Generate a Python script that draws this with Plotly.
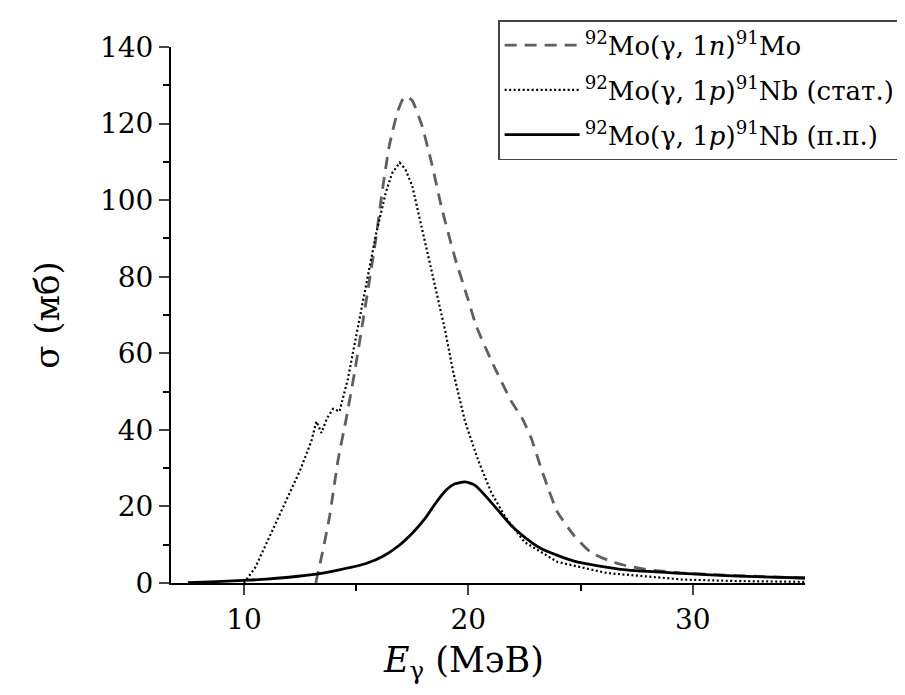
import plotly.graph_objects as go

# (γ,1n) dashed
E_n = [13.2, 13.5, 13.82, 14.19, 14.56, 14.93, 15.29, 15.51, 15.88, 16.18, 16.47, 16.84, 17.1, 17.28,
       17.5, 17.93, 18.37, 18.81, 19.4, 19.99, 20.36, 21.03, 21.91, 22.4, 22.79, 23.24, 23.6, 23.97,
       24.71, 25.44, 26.2, 26.91, 28.0, 29.56, 31.0, 33.0, 35.0]
S_n = [0.0, 8.0, 17.5, 32.0, 43.0, 55.0, 68.0, 76.0, 90.0, 103.0, 114.0, 123.0, 126.5, 127.0,
       126.0, 119.5, 109.5, 98.0, 85.0, 74.0, 67.0, 58.0, 47.5, 43.0, 38.0, 30.0, 24.0, 18.5,
       12.4, 8.1, 6.0, 4.7, 3.5, 2.6, 2.2, 1.7, 1.3]

# (γ,1p) statistical, dotted
E_ps = [10.0, 10.5, 11.03, 11.76, 12.5, 13.0, 13.23, 13.45, 13.7, 13.97, 14.26, 14.63, 15.07, 15.51,
        15.88, 16.32, 16.6, 16.94, 17.2, 17.5, 17.93, 18.37, 18.96, 19.33, 19.85, 20.44, 21.03,
        21.62, 22.5, 23.97, 26.17, 29.56, 32.0, 35.0]
S_ps = [0.0, 4.0, 10.7, 20.0, 29.4, 37.0, 42.2, 39.2, 43.0, 45.5, 44.8, 53.3, 66.5, 79.0,
        91.0, 102.0, 107.0, 109.8, 108.0, 103.7, 92.6, 80.6, 66.1, 55.0, 42.2, 32.0, 23.5,
        17.5, 10.7, 5.5, 2.6, 0.9, 0.5, 0.3]

# (γ,1p) direct (п.п.), solid
E_pd = [7.5, 8.5, 10.0, 11.0, 12.0, 13.23, 14.3, 15.44, 16.2, 16.91, 17.5, 18.09, 18.5, 18.97,
        19.4, 19.85, 20.3, 21.03, 21.91, 22.5, 23.24, 24.71, 26.91, 29.56, 32.0, 35.0]
S_pd = [0.1, 0.3, 0.7, 1.0, 1.5, 2.3, 3.5, 5.1, 7.0, 9.8, 13.0, 17.0, 20.5, 24.0,
        25.9, 26.4, 25.5, 21.0, 15.0, 12.0, 9.0, 5.7, 3.5, 2.5, 1.8, 1.3]

names = ["<sup>92</sup>Mo(γ, 1<i>n</i>)<sup>91</sup>Mo",
         "<sup>92</sup>Mo(γ, 1<i>p</i>)<sup>91</sup>Nb (стат.)",
         "<sup>92</sup>Mo(γ, 1<i>p</i>)<sup>91</sup>Nb (п.п.)"]

x_ticks = [10, 20, 30]
y_ticks = [0, 20, 40, 60, 80, 100, 120, 140]
x_title = "<i>E</i><sub>γ</sub> (МэВ)"
y_title = "σ (мб)"

FONT = "DejaVu Serif"

fig = go.Figure()
fig.add_trace(go.Scatter(x=E_n, y=S_n, mode="lines", name=names[0], legendgroup="a",
                         line=dict(color="#5f5f5f", width=2.8, dash="12px,8px", shape="spline", smoothing=0.5)))
fig.add_trace(go.Scatter(x=E_ps, y=S_ps, mode="lines", name=names[1], legendgroup="b",
                         line=dict(color="black", width=2.2, dash="2px,2.5px")))
fig.add_trace(go.Scatter(x=E_pd, y=S_pd, mode="lines", name=names[2], legendgroup="c",
                         line=dict(color="black", width=2.8, shape="spline", smoothing=0.6)))

fig.update_layout(
    width=905, height=695,
    margin=dict(l=163, r=102, t=29, b=120),
    plot_bgcolor="white", paper_bgcolor="white",
    font=dict(family=FONT, color="black"),
    showlegend=True,
    legend=dict(x=0.516, y=1.05, xanchor="left", yanchor="top",
                bordercolor="#444444", borderwidth=1.5, bgcolor="white",
                font=dict(family=FONT, size=26, color="black"),
                itemwidth=75, traceorder="grouped", tracegroupgap=8),
    xaxis=dict(range=[6.75, 35], tickvals=x_ticks, ticks="outside", ticklen=10, tickwidth=2,
               showline=True, linecolor="black", linewidth=2, showgrid=False, zeroline=False,
               tickfont=dict(family=FONT, size=28, color="black"),
               minor=dict(tickvals=[15, 25], ticks="outside", ticklen=6, tickwidth=1.5, tickcolor="black")),
    yaxis=dict(range=[0, 140], tickvals=y_ticks, ticks="outside", ticklen=10, tickwidth=2,
               showline=True, linecolor="black", linewidth=2, showgrid=False, zeroline=False,
               tickfont=dict(family=FONT, size=28, color="black"),
               minor=dict(tickvals=[10, 30, 50, 70, 90, 110, 130], ticks="outside", ticklen=6,
                          tickwidth=1.5, tickcolor="black"),
               title=dict(text=y_title, font=dict(family=FONT, size=34, color="black"), standoff=30)),
    annotations=[dict(text=x_title, xref="paper", yref="paper", x=0.461, y=-0.148,
                      xanchor="center", yanchor="middle", showarrow=False,
                      font=dict(family=FONT, size=35, color="black"))],
)

fig.write_html("out.html")
